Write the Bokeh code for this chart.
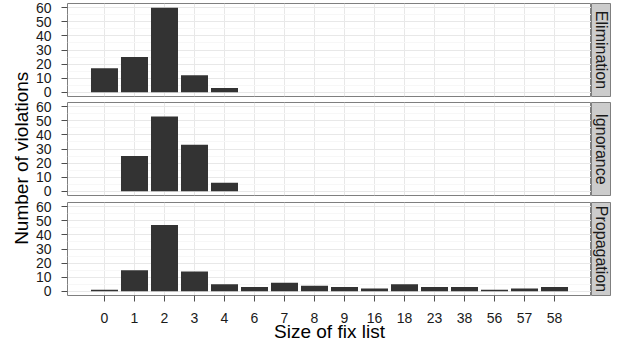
import math
from bokeh.plotting import figure
from bokeh.layouts import gridplot, row
from bokeh.models import Range1d, FixedTicker, ColumnDataSource
from bokeh.core.properties import value
from bokeh.embed import file_html
from bokeh.resources import INLINE

# ---- data ----
categories = ["0", "1", "2", "3", "4", "6", "7", "8", "9", "16", "18", "23", "38", "56", "57", "58"]
facets = ["Elimination", "Ignorance", "Propagation"]
elimination = [17, 25, 60, 12, 3, 0, 0, 0, 0, 0, 0, 0, 0, 0, 0, 0]
ignorance = [0, 25, 53, 33, 6, 0, 0, 0, 0, 0, 0, 0, 0, 0, 0, 0]
propagation = [1, 15, 47, 14, 5, 3, 6, 4, 3, 2, 5, 3, 3, 1, 2, 3]
y_ticks = [0, 10, 20, 30, 40, 50, 60]
y_minor = [5, 15, 25, 35, 45, 55]
x_title = "Size of fix list"
y_title = "Number of violations"

FONT = "Liberation Sans"
BAR = "#333333"
BORDER = "#7f7f7f"
GRID = "#e8e8e8"
MINOR = "#f7f7f7"
STRIP = "#cccccc"
TICK = "#4d4d4d"

series = [elimination, ignorance, propagation]
x_pos = list(range(len(categories)))
pad = 1.233

FRAME_W, FRAME_H = 524, 93
LEFT_B = 35
TITLE_W = 32
tops_b = [3, 3, 4]
bots_b = [3, 3, 48]

rows = []
for k, (name, vals) in enumerate(zip(facets, series)):
    last = k == len(facets) - 1
    top_b, bot_b = tops_b[k], bots_b[k]

    p = figure(frame_width=FRAME_W, frame_height=FRAME_H,
               x_range=Range1d(-pad, len(categories) - 1 + pad),
               y_range=Range1d(-3, 63),
               output_backend="svg", toolbar_location=None,
               x_axis_location="below" if last else None,
               min_border_left=LEFT_B, min_border_right=0,
               min_border_top=top_b, min_border_bottom=bot_b,
               background_fill_color="white", border_fill_color="white")
    p.outline_line_color = BORDER
    p.outline_line_width = 1

    xs = [x for x, v in zip(x_pos, vals) if v > 0]
    tops = [v for v in vals if v > 0]
    src = ColumnDataSource(dict(x=xs, top=tops))
    p.vbar(x="x", top="top", bottom=0, width=0.9, source=src,
           fill_color=BAR, line_color=None)

    p.xgrid.ticker = FixedTicker(ticks=x_pos)
    p.xgrid.grid_line_color = GRID
    p.ygrid.ticker = FixedTicker(ticks=y_ticks, minor_ticks=y_minor)
    p.ygrid.grid_line_color = GRID
    p.ygrid.minor_grid_line_color = MINOR

    ya = p.yaxis[0]
    ya.ticker = FixedTicker(ticks=y_ticks)
    ya.axis_line_color = None
    ya.major_tick_in = 0
    ya.major_tick_out = 6
    ya.minor_tick_line_color = None
    ya.major_tick_line_color = TICK
    ya.major_label_standoff = 10
    ya.major_label_text_font = FONT
    ya.major_label_text_font_size = "14px"
    ya.major_label_text_color = "#1a1a1a"

    if last:
        xa = p.xaxis[0]
        xa.ticker = FixedTicker(ticks=x_pos)
        xa.major_label_overrides = {i: c for i, c in zip(x_pos, categories)}
        xa.axis_line_color = None
        xa.major_tick_in = 0
        xa.major_tick_out = 6
        xa.minor_tick_line_color = None
        xa.major_tick_line_color = TICK
        xa.major_label_standoff = 11
        xa.major_label_text_font = FONT
        xa.major_label_text_font_size = "14px"
        xa.major_label_text_color = "#1a1a1a"
        xa.axis_label = x_title
        xa.axis_label_standoff = -5
        xa.axis_label_text_font = FONT
        xa.axis_label_text_font_size = "19px"
        xa.axis_label_text_font_style = "normal"
        xa.axis_label_text_color = "#000000"

    s = figure(frame_width=20, frame_height=FRAME_H,
               x_range=Range1d(0, 1), y_range=Range1d(0, 1),
               output_backend="svg", toolbar_location=None,
               x_axis_location=None, y_axis_location=None,
               min_border_left=0, min_border_right=0,
               min_border_top=top_b, min_border_bottom=bot_b,
               background_fill_color=STRIP, border_fill_color="white")
    s.outline_line_color = BORDER
    s.outline_line_width = 1
    s.grid.visible = False
    s.text(x=[0.5], y=[0.5], text=[name], angle=-math.pi / 2,
           text_align="center", text_baseline="middle",
           text_font=value(FONT), text_font_size="16px", text_color="#1a1a1a")

    rows.append([p, s])

grid = gridplot(rows, toolbar_location=None)

# shared y-axis title, spanning the three panels
panels_h = sum(tops_b) + sum(bots_b) + 3 * FRAME_H - tops_b[0] - bots_b[-1]
t = figure(frame_width=TITLE_W, frame_height=panels_h,
           x_range=Range1d(0, 1), y_range=Range1d(0, 1),
           output_backend="svg", toolbar_location=None,
           x_axis_location=None, y_axis_location=None,
           min_border_left=0, min_border_right=0,
           min_border_top=tops_b[0], min_border_bottom=bots_b[-1],
           border_fill_color="white", background_fill_color="white")
t.outline_line_color = None
t.grid.visible = False
t.text(x=[0.66], y=[0.47], text=[y_title], angle=math.pi / 2,
       text_align="center", text_baseline="middle",
       text_font=value(FONT), text_font_size="19px", text_color="#000000")

layout = row(t, grid)

open("out.html", "w").write(file_html(layout, INLINE))
